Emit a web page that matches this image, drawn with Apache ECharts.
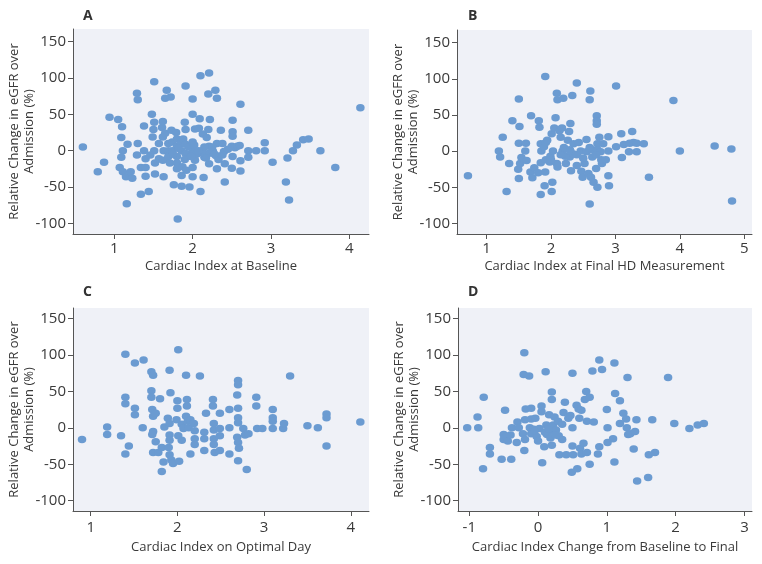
<!DOCTYPE html>
<html><head><meta charset="utf-8">
<script src="https://cdn.jsdelivr.net/npm/echarts@6/dist/echarts.min.js"></script>
<style>html,body{margin:0;padding:0;background:#fff}#c{width:762px;height:564px}</style>
</head><body><div id="c"></div>
<script>
// ---- Data ----
const yTicks = [-100, -50, 0, 50, 100, 150];
const aTicks = [1, 2, 3, 4];
const bTicks = [1, 2, 3, 4, 5];
const cTicks = [1, 2, 3, 4];
const dTicks = [-1, 0, 1, 2, 3];

const panelTitles = ['A', 'B', 'C', 'D'];
const xNames = ['Cardiac Index at Baseline', 'Cardiac Index at Final HD Measurement', 'Cardiac Index on Optimal Day', 'Cardiac Index Change from Baseline to Final'];
const yName = 'Relative Change in eGFR over\nAdmission (%)';

const aX = [0.60,0.79,0.87,0.94,1.05,1.10,1.09,1.11,1.09,1.07,1.11,1.15,1.21,1.23,1.17,1.16,1.29,1.30,1.30,1.29,1.34,1.34,1.38,1.38,1.40,1.40,1.40,1.44,1.48,1.51,1.51,1.50,1.49,1.51,1.46,1.52,1.52,1.57,1.57,1.61,1.62,1.62,1.63,1.62,1.63,1.65,1.67,1.72,1.65,1.69,1.69,1.69,1.71,1.73,1.74,1.74,1.79,1.80,1.80,1.80,1.80,1.80,1.76,1.86,1.81,1.85,1.86,1.87,1.86,1.88,1.91,1.90,1.91,1.91,1.91,1.90,1.92,1.96,2.00,2.00,2.00,2.00,2.00,2.00,2.03,2.03,2.08,2.09,2.09,2.10,2.10,2.13,2.14,2.15,2.18,2.20,2.21,2.20,2.22,2.21,2.20,2.21,2.29,2.31,2.26,2.31,2.30,2.31,2.36,2.38,2.40,2.41,2.41,2.50,2.51,2.50,2.51,2.51,2.51,2.54,2.57,2.60,2.61,2.61,2.61,2.71,2.71,2.71,2.81,2.92,2.92,3.02,3.21,3.19,3.23,3.28,3.33,3.41,3.48,3.63,3.82,4.14,1.95,2.05,2.12,2.17,2.25,2.33,2.45,1.75,1.82,2.02,2.28,2.38,2.15,2.07,1.98];
const aY = [5,-29,-16,46,43,33,18,0,-9,-23,-29,-36,-29,-38,9,-73,79,70,10,-6,-23,-60,34,0,-11,-23,-35,-56,50,95,39,29,19,0,-6,-17,-32,10,-11,32,40,19,0,-13,-36,72,83,74,24,10,0,-8,-17,28,12,0,25,16,6,-8,-17,-25,-47,-49,-94,10,0,-22,-34,16,89,39,29,9,-4,-12,-27,-50,71,50,12,0,-23,-36,30,-13,31,44,-3,103,-56,23,-37,-9,18,78,107,29,43,6,-4,-18,83,72,-1,10,-7,-25,28,10,-1,-18,-43,6,-8,-24,42,26,20,4,6,7,64,-14,-28,28,0,-9,0,11,0,-16,-10,-43,-68,0,8,15,16,0,-23,59,5,-5,0,-10,5,-12,2,-5,3,8,-5,-6,5,0,-8];

const bX = [0.71,1.19,1.21,1.25,1.31,1.35,1.40,1.50,1.51,1.50,1.49,1.50,1.52,1.54,1.61,1.60,1.62,1.69,1.68,1.71,1.74,1.81,1.82,1.80,1.84,1.85,1.84,1.84,1.91,1.90,1.91,1.89,1.92,1.92,1.94,1.98,1.99,2.02,2.01,2.03,2.01,2.05,2.07,2.09,2.10,2.09,2.10,2.13,2.15,2.17,2.19,2.18,2.22,2.23,2.26,2.28,2.30,2.33,2.29,2.29,2.31,2.35,2.35,2.40,2.40,2.43,2.46,2.47,2.49,2.52,2.55,2.55,2.58,2.61,2.60,2.60,2.62,2.64,2.64,2.66,2.70,2.72,2.71,2.71,2.71,2.72,2.72,2.75,2.77,2.78,2.79,2.81,2.85,2.89,2.89,2.89,2.90,3.01,3.01,3.09,3.10,3.13,3.21,3.22,3.26,3.28,3.33,3.33,3.44,3.52,3.90,4.00,4.54,4.80,4.81,2.20,2.30,2.40,2.60,2.50,2.00,2.15,2.70];
const bY = [-34,0,-8,19,-56,-17,42,72,34,11,-25,-38,-17,-9,11,0,-13,49,-29,-37,-23,42,33,-30,10,0,-16,-60,103,-48,-29,6,12,-12,15,-15,-7,-43,-56,0,24,32,46,80,71,-17,-22,28,19,32,73,0,-7,-17,15,27,38,77,2,-8,-27,-4,10,94,-20,12,0,-28,-36,-17,16,-1,-31,83,71,-73,-36,2,-8,-43,-24,-50,49,42,37,10,2,19,-1,-12,-17,10,-12,20,0,-34,-48,90,6,24,-9,9,-1,11,27,12,11,-1,10,-36,70,0,7,3,-69,5,0,-5,5,-10,-12,-5,-5];

const cX = [0.90,1.19,1.19,1.35,1.40,1.40,1.40,1.40,1.44,1.51,1.51,1.51,1.61,1.60,1.70,1.72,1.70,1.70,1.71,1.72,1.72,1.71,1.72,1.75,1.78,1.75,1.80,1.82,1.82,1.84,1.85,1.89,1.91,1.92,1.91,1.91,1.91,1.90,1.91,1.93,1.95,1.99,2.00,2.00,2.01,2.01,2.02,2.05,2.05,2.07,2.10,2.11,2.11,2.10,2.12,2.13,2.15,2.15,2.19,2.20,2.20,2.20,2.26,2.31,2.31,2.31,2.33,2.41,2.41,2.42,2.42,2.42,2.42,2.43,2.49,2.49,2.49,2.49,2.60,2.60,2.60,2.70,2.70,2.69,2.70,2.70,2.70,2.69,2.70,2.71,2.70,2.76,2.78,2.80,2.82,2.91,2.91,2.92,2.98,3.10,3.10,3.10,3.10,3.22,3.23,3.30,3.50,3.62,3.72,3.72,3.72,4.11];
const cY = [-16,1,-9,-11,101,42,33,-36,-25,89,27,18,93,0,77,72,51,42,25,16,-5,-9,-34,-19,-34,20,40,-27,-60,-47,1,13,79,48,6,-10,-17,-27,-37,-44,-49,11,37,27,107,-11,-46,-17,5,-1,72,39,30,16,9,0,11,-36,6,-4,-15,-23,71,-6,-15,-31,20,39,30,6,-3,-15,-23,-34,20,-1,-11,-31,25,0,-36,65,59,45,27,14,7,-13,-20,-28,-45,-1,-10,-57,-8,42,30,-1,-1,25,14,9,-1,-1,6,71,3,0,19,14,-25,8];

const dX = [-1.03,-0.88,-0.87,-0.79,-0.80,-0.70,-0.70,-0.53,-0.50,-0.48,-0.50,-0.46,-0.44,-0.40,-0.39,-0.38,-0.31,-0.30,-0.28,-0.22,-0.20,-0.21,-0.18,-0.20,-0.19,-0.19,-0.13,-0.10,-0.10,-0.12,-0.10,-0.06,-0.04,-0.02,0.00,0.02,0.05,0.05,0.06,0.09,0.11,0.12,0.13,0.16,0.16,0.18,0.20,0.20,0.20,0.22,0.24,0.26,0.29,0.30,0.31,0.35,0.37,0.39,0.41,0.44,0.47,0.50,0.50,0.49,0.50,0.51,0.56,0.57,0.59,0.60,0.61,0.63,0.63,0.66,0.68,0.70,0.71,0.71,0.75,0.75,0.79,0.81,0.87,0.89,0.89,0.93,1.00,1.01,1.01,1.09,1.11,1.12,1.11,1.19,1.19,1.24,1.28,1.29,1.30,1.31,1.34,1.39,1.41,1.43,1.44,1.60,1.61,1.66,1.70,1.89,1.98,2.20,2.32,2.41,0.10,0.25,0.35,-0.05,0.15];
const dY = [0,15,0,42,-56,-27,-36,-43,-9,24,-16,-12,-18,-10,-43,0,-20,8,0,-8,103,73,26,-31,11,-16,71,27,12,0,-8,-2,13,-12,-18,-1,30,22,-48,-26,77,4,-9,18,-5,-14,49,39,-24,4,15,-3,9,-11,-37,-16,21,35,-37,13,17,0,-25,-61,75,-37,31,-56,26,13,-28,24,-36,-21,39,50,9,-34,42,-50,78,8,-36,93,-26,80,25,0,-20,-15,89,47,-47,6,37,20,12,0,69,-9,-8,-29,-5,11,-73,-68,-37,11,-34,69,6,-1,4,6,-6,-10,5,-4,-2];

// ---- Layout ----
const grids = [
  {left: 73, top: 29, width: 296, height: 205},
  {left: 457, top: 30, width: 295, height: 204},
  {left: 73, top: 308, width: 296, height: 203},
  {left: 458, top: 308, width: 294, height: 203}
];
const xRanges = [[0.474, 4.25], [0.54, 5.12], [0.796, 4.21], [-1.164, 3.11]];
const yRanges = [[-114.6, 167.4], [-114.6, 167.4], [-114.1, 164.4], [-114.1, 164.4]];
const xTickSets = [aTicks, bTicks, cTicks, dTicks];
const xNameGaps = [26, 26, 30, 30];
const xLabelMargins = [7, 7, 9, 9];
const letterPos = [[83, 9], [468, 9], [83, 285], [468, 285]];
const seriesXs = [aX, bX, cX, dX];
const seriesYs = [aY, bY, cY, dY];

const dotColor = '#6b9bd1';
const axisColor = '#555';
const textColor = '#3a3a3a';
const FONT = '"Open Sans", "Noto Sans", sans-serif';

const option = {
  backgroundColor: '#ffffff',
  animation: false,
  title: panelTitles.map((t, i) => ({
    text: t, left: letterPos[i][0], top: letterPos[i][1], padding: 0,
    textStyle: {fontSize: 14, fontWeight: 'bold', color: '#333', fontFamily: FONT}
  })),
  grid: grids.map(g => Object.assign({show: true, backgroundColor: '#eff1f7', borderWidth: 0}, g)),
  xAxis: grids.map((g, i) => ({
    type: 'value', gridIndex: i, min: xRanges[i][0], max: xRanges[i][1],
    name: xNames[i], nameLocation: 'middle', nameGap: xNameGaps[i], nameMoveOverlap: false,
    nameTextStyle: {fontSize: 13, color: textColor, fontFamily: FONT},
    axisLine: {show: true, onZero: false, lineStyle: {color: axisColor, width: 1}},
    axisTick: {show: true, length: 5, lineStyle: {color: axisColor}, customValues: xTickSets[i]},
    axisLabel: {fontSize: 15, color: textColor, margin: xLabelMargins[i], fontFamily: FONT, customValues: xTickSets[i]},
    splitLine: {show: false}
  })),
  yAxis: grids.map((g, i) => ({
    type: 'value', gridIndex: i, min: yRanges[i][0], max: yRanges[i][1],
    name: yName, nameLocation: 'middle', nameGap: 36, nameRotate: 90, nameMoveOverlap: false,
    nameTextStyle: {fontSize: 13, color: textColor, fontFamily: FONT, lineHeight: 15},
    axisLine: {show: true, onZero: false, lineStyle: {color: axisColor, width: 1}},
    axisTick: {show: true, length: 5, lineStyle: {color: axisColor}, customValues: yTicks},
    axisLabel: {fontSize: 15, color: textColor, margin: 7, fontFamily: FONT, customValues: yTicks},
    splitLine: {show: false}
  })),
  series: seriesXs.map((xs, i) => ({
    type: 'scatter', xAxisIndex: i, yAxisIndex: i,
    symbol: 'circle', symbolSize: [8.5, 7.5],
    itemStyle: {color: dotColor, opacity: 1},
    data: xs.map((x, k) => [x, seriesYs[i][k]])
  }))
};
const chart = echarts.init(document.getElementById('c'), null, {renderer: 'canvas'});
chart.setOption(option);
</script></body></html>
